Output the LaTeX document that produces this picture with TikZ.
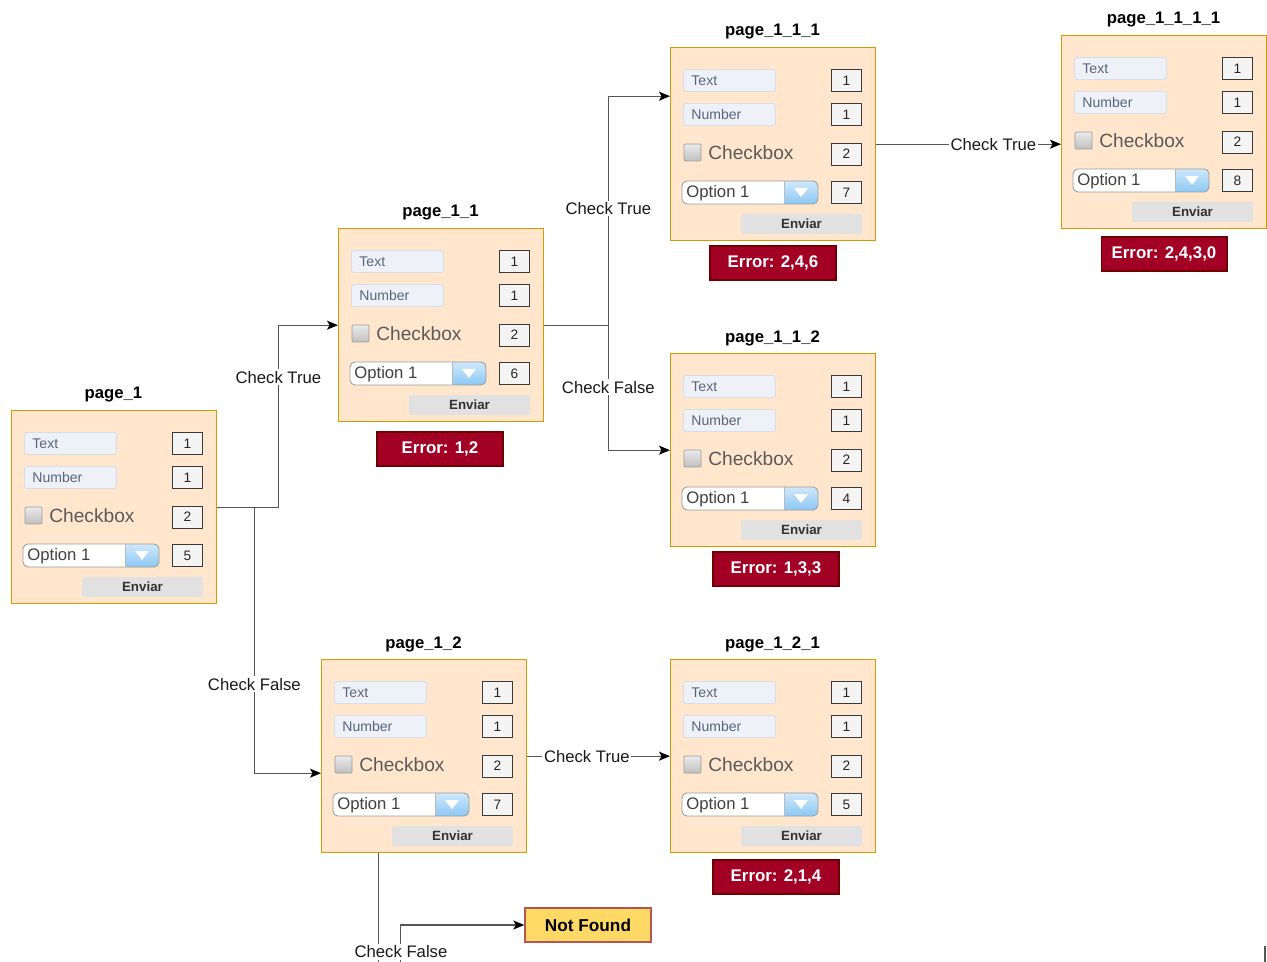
\documentclass[tikz,border=0pt]{standalone}
\usepackage{fontspec}
\setmainfont{Liberation Sans}
\usetikzlibrary{arrows.meta,calc}

\definecolor{panelfill}{HTML}{FFE6CC}
\definecolor{panelline}{HTML}{D79B00}
\definecolor{fieldfill}{HTML}{EEF2F8}
\definecolor{fieldline}{HTML}{D6DEE8}
\definecolor{fieldtext}{HTML}{56657D}
\definecolor{valfill}{HTML}{F4F4F4}
\definecolor{valline}{HTML}{3A3A3A}
\definecolor{chkline}{HTML}{9A9A9A}
\definecolor{chktext}{HTML}{5A5A5A}
\definecolor{ddline}{HTML}{9C9C9C}
\definecolor{ddtop}{HTML}{CFE8FB}
\definecolor{ddbot}{HTML}{8CC8F4}
\definecolor{btnfill}{HTML}{E1E1E1}
\definecolor{connline}{HTML}{555555}
\definecolor{errfill}{HTML}{A20025}
\definecolor{errline}{HTML}{6F0000}
\definecolor{nffill}{HTML}{FFD966}
\definecolor{nfline}{HTML}{B85450}

\tikzset{
  panel/.style={draw=panelline, fill=panelfill, line width=0.8pt,
    minimum width=4.1cm, minimum height=3.86cm, inner sep=0pt},
  pagetitle/.style={font=\bfseries\fontsize{9.5}{11}\selectfont, text=black, inner sep=0pt},
  field/.style={draw=fieldline, fill=fieldfill, rounded corners=0.05cm, line width=0.5pt,
    minimum height=0.44cm, text width=1.52cm, inner xsep=0.16cm, inner ysep=0pt,
    align=left, font=\fontsize{8}{9}\selectfont, text=fieldtext},
  valbox/.style={draw=valline, fill=valfill, line width=0.5pt, minimum width=0.6cm,
    minimum height=0.44cm, inner sep=0pt, font=\fontsize{7.8}{9}\selectfont, text=black!85},
  chk/.style={draw=chkline, top color=black!8, bottom color=black!25, line width=0.4pt,
    minimum size=0.34cm, inner sep=0pt, rounded corners=0.02cm},
  chklabel/.style={font=\fontsize{10.9}{12}\selectfont, text=chktext, inner sep=0pt},
  opttext/.style={font=\fontsize{9.5}{11}\selectfont, text=black!75, inner sep=0pt},
  sendbtn/.style={fill=btnfill, rounded corners=0.04cm, minimum width=2.42cm,
    minimum height=0.4cm, inner sep=0pt, font=\bfseries\fontsize{7.6}{9}\selectfont, text=black!80},
  errbox/.style={draw=errline, fill=errfill, line width=0.6pt, minimum width=2.52cm,
    minimum height=0.68cm, inner sep=0pt, text=white, font=\bfseries\fontsize{9.6}{11}\selectfont},
  nfbox/.style={draw=nfline, fill=nffill, line width=0.8pt, minimum width=2.52cm,
    minimum height=0.68cm, inner sep=0pt, text=black, font=\bfseries\fontsize{9.8}{11}\selectfont},
  conn/.style={draw=connline, line width=0.7pt,
    -{Stealth[length=0.22cm, width=0.18cm, inset=0.05cm, color=black]}},
  lbl/.style={fill=white, inner sep=1pt, text=black!90, font=\fontsize{9.5}{11}\selectfont},
}

% A form panel: name, left x, top y, title, four values
\newcommand\formpanel[8]{%
  \begin{scope}[shift={(#2,#3)}]
    \node[panel, anchor=north west] (#1) at (0,0) {};
    \node[pagetitle] (#1-title) at (102.5,-15) {#4};
    \node[field, anchor=west] (#1-text) at (13,33.5) {Text};
    \node[field, anchor=west] (#1-num) at (13,67.5) {Number};
    \node[chk] (#1-chk) at (22.5,105.5) {};
    \node[chklabel, anchor=west] (#1-chktext) at (38,105.5) {Checkbox};
    \begin{scope}
      \clip[rounded corners=0.1cm] (12,134) rectangle (148,157);
      \fill[white] (12,134) rectangle (148,157);
      \shade[top color=ddtop, bottom color=ddbot] (114,134) rectangle (148,157);
    \end{scope}
    \draw[ddline, rounded corners=0.1cm, line width=0.5pt] (12,134) rectangle (148,157);
    \draw[ddline!70, line width=0.4pt] (114,134) -- (114,157);
    \fill[white] (124,141) -- (138,141) -- (131,150) -- cycle;
    \node[opttext, anchor=west] (#1-opt) at (16,146.5) {Option 1};
    \node[valbox] (#1-v1) at (176.5,33.5) {#5};
    \node[valbox] (#1-v2) at (176.5,67.5) {#6};
    \node[valbox] (#1-v3) at (176.5,107) {#7};
    \node[valbox] (#1-v4) at (176.5,145.5) {#8};
    \node[sendbtn] (#1-send) at (131.5,177) {Enviar};
  \end{scope}}

\begin{document}
\begin{tikzpicture}[x=0.02cm, y=-0.02cm]
  \clip (0,0) rectangle (1267,962);

  % form pages
  \formpanel{p1}{11}{410}{page\_1}{1}{1}{2}{5}
  \formpanel{p11}{338}{228}{page\_1\_1}{1}{1}{2}{6}
  \formpanel{p111}{670}{47}{page\_1\_1\_1}{1}{1}{2}{7}
  \formpanel{p1111}{1061}{35}{page\_1\_1\_1\_1}{1}{1}{2}{8}
  \formpanel{p112}{670}{353}{page\_1\_1\_2}{1}{1}{2}{4}
  \formpanel{p12}{321}{659}{page\_1\_2}{1}{1}{2}{7}
  \formpanel{p121}{670}{659}{page\_1\_2\_1}{1}{1}{2}{5}

  % error messages
  \node[errbox] (e11) at (440,449) {Error: 1,2};
  \node[errbox] (e111) at (773,263) {Error: 2,4,6};
  \node[errbox] (e1111) at (1164,254) {Error: 2,4,3,0};
  \node[errbox] (e112) at (776,569) {Error: 1,3,3};
  \node[errbox] (e121) at (776,877) {Error: 2,1,4};

  \node[nfbox] (nf) at (588,925) {Not Found};

  % transitions
  \draw[conn] (p1.east) -- ++(61,0) |- (p11.west)
    node[lbl, pos=0.357] (l1) {Check True};
  \draw[conn] (p1.east) -- ++(37,0) |- ($(p12.west)+(0,17)$)
    node[lbl, pos=0.333] (l2) {Check False};
  \draw[conn] (p11.east) -- ++(64,0) |- ($(p111.west)+(0,-48)$)
    node[lbl, pos=0.255] (l3) {Check True};
  \draw[conn] (p11.east) -- ++(64,0) |- (p112.west)
    node[lbl, pos=0.248] (l4) {Check False};
  \draw[conn] (p111.east) -- (p111.east -| p1111.west)
    node[lbl, pos=0.634] (l5) {Check True};
  \draw[conn] (p12.east) -- (p121.west)
    node[lbl, pos=0.417] (l6) {Check True};
  \draw[conn] ($(p12.south)+(-45.5,0)$) -- ++(0,140) -- ++(22,0) |- (nf.west);
  \node[lbl] (l7) at (401,952) {Check False};

  % stray stub at the lower right
  \coordinate (stubA) at (1265,946);
  \coordinate (stubB) at (1265,975);
  \draw[connline, line width=0.7pt] (stubA) -- (stubB);
\end{tikzpicture}
\end{document}
